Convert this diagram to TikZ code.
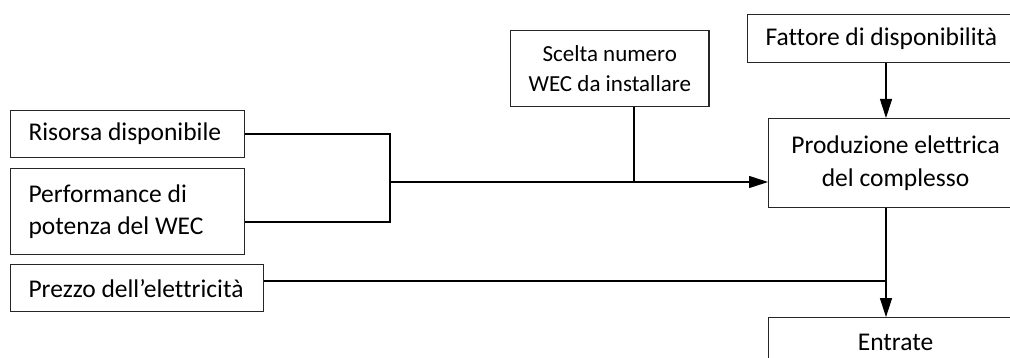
\documentclass[tikz,border=0pt]{standalone}
\usepackage{fontspec}
\setmainfont{Carlito}[Ligatures=NoCommon]
\usetikzlibrary{arrows.meta, positioning}

\begin{document}
\begin{tikzpicture}[
  x=1pt, y=-1pt,
  box/.style={rectangle, draw=black!85, line width=1.1pt, inner xsep=18pt, inner ysep=0pt, font=\fontsize{25.5}{32.5}\selectfont},
  lbox/.style={box, anchor=north west, text width=198pt, align=flush left},
  cbox/.style={box, anchor=north west, align=center},
  arrow/.style={-{Triangle[length=19pt,width=12pt]}, line width=1.1pt},
  wire/.style={line width=1.1pt}
]
\useasboundingbox (0,0) rectangle (1010,358);
\clip (0,0) rectangle (1010,358);

\node (ris) [lbox, minimum height=47pt] at (10,110) {Risorsa disponibile};
\node (perf) [lbox, minimum height=86pt, below=10pt of ris.south west, anchor=north west] {Performance di\\potenza del WEC};
\node (prez) [lbox, text width=217pt, minimum height=47pt, below=9pt of perf.south west, anchor=north west] {Prezzo dell’elettricità};

\node (scelta) [cbox, minimum width=198pt, minimum height=76pt, font=\fontsize{23}{30}\selectfont] at (510,30) {Scelta numero\\WEC da installare};
\node (fatt) [cbox, minimum width=266pt, minimum height=48pt] at (747,14) {Fattore di disponibilità};
\node (prod) [cbox, minimum width=254pt, minimum height=89pt] at (768,118) {Produzione elettrica\\del complesso};
\node (entr) [cbox, minimum width=254pt, minimum height=50pt, below=109pt of prod.south west, anchor=north west] {Entrate};

\coordinate (join) at (390,182);
\coordinate (lowtap) at (390,222);
\coordinate (stap) at (634,182);
\coordinate (revtap) at (886,281);

\draw [wire] (ris.east) -| (lowtap) -- (perf.east |- lowtap);
\draw [arrow] (join) -- (prod.west |- join);
\draw [wire] (scelta.south -| stap) -- (stap);
\draw [arrow] (fatt.south -| revtap) -- (prod.north -| revtap);
\draw [arrow] (prod.south -| revtap) -- (entr.north -| revtap);
\draw [wire] (prez.east |- revtap) -- (revtap);

\end{tikzpicture}
\end{document}
